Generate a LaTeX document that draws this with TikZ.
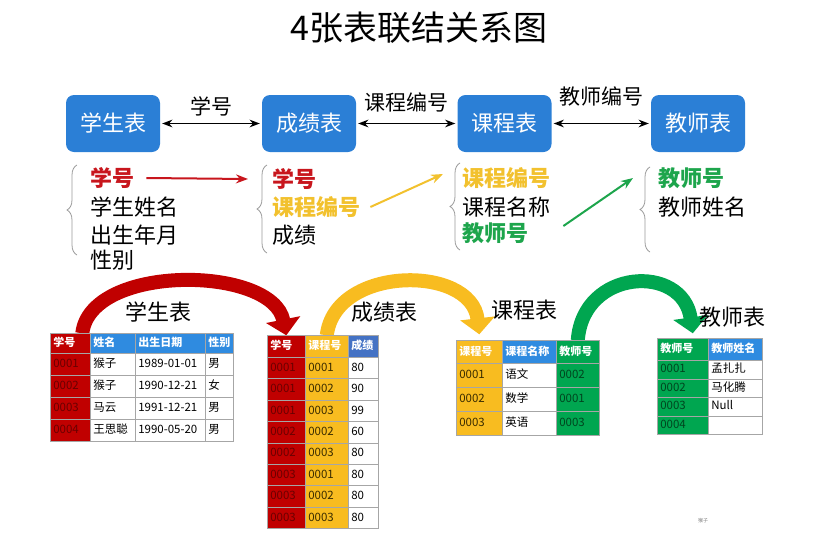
\documentclass[tikz,border=0pt]{standalone}
\usepackage{fontspec}
\setmainfont{Noto Sans CJK SC}
\usetikzlibrary{positioning, arrows.meta, matrix, decorations.pathreplacing, backgrounds}
\definecolor{boxblue}{HTML}{2B7FD6}
\definecolor{hdrblue}{HTML}{2F8BE0}
\definecolor{hdrblue2}{HTML}{4472C4}
\definecolor{keyred}{HTML}{C00000}
\definecolor{keyredtxt}{HTML}{6A0000}
\definecolor{keyyellow}{HTML}{F8BC20}
\definecolor{keyyellowtxt}{HTML}{3A2C00}
\definecolor{keygreen}{HTML}{00A650}
\definecolor{keygreentxt}{HTML}{00451F}
\definecolor{gridgray}{HTML}{A6A6A6}
\definecolor{listred}{HTML}{C8161D}
\definecolor{listyellow}{HTML}{F2C12E}
\definecolor{listgreen}{HTML}{1DA54C}
\definecolor{bracegray}{HTML}{9A9A9A}

\begin{document}
\begin{tikzpicture}[
    x=1pt, y=-1pt,
    >=Stealth,
    title/.style={font=\fontsize{34}{40}\selectfont},
    tblbox/.style={rounded corners=8pt, fill=boxblue, text=white, minimum width=94pt,
                   minimum height=57pt, font=\fontsize{22}{26}\selectfont},
    link/.style={<->, line width=1.6pt, shorten <=2pt, shorten >=2pt},
    linklbl/.style={font=\fontsize{21}{25}\selectfont},
    item/.style={anchor=west, inner sep=0pt, font=\fontsize{22}{26}\selectfont},
    keyitem/.style={item, font=\fontsize{22}{26}\selectfont\bfseries},
    grp/.style={decorate, decoration={brace, amplitude=10pt}, draw=bracegray, line width=0.8pt},
    fk/.style={->, line width=2pt},
    ribbon/.style={line width=14pt, -{Triangle[length=16pt, width=34pt]}},
    tname/.style={font=\fontsize{22}{26}\selectfont},
    tab/.style={matrix of nodes, nodes in empty cells, anchor=north west,
                inner sep=0pt, outer sep=0pt,
                column sep=-0.6pt, row sep=-0.6pt,
                nodes={draw=gridgray, line width=0.6pt, fill=white, inner xsep=3pt, inner ysep=0pt,
                       text height=9pt, text depth=2.5pt, align=left,
                       font=\fontsize{11.5}{13}\selectfont}},
    hd/.style={font=\fontsize{11}{13}\selectfont\bfseries, text=white},
    hred/.style={hd, fill=keyred},
    hyel/.style={hd, fill=keyyellow},
    hgrn/.style={hd, fill=keygreen},
    hblue/.style={hd, fill=hdrblue},
    hblue2/.style={hd, fill=hdrblue2},
    kred/.style={nodes={fill=keyred, text=keyredtxt}},
    kyel/.style={nodes={fill=keyyellow, text=keyyellowtxt}},
    kgrn/.style={nodes={fill=keygreen, text=keygreentxt}},
]
\useasboundingbox (0,0) rectangle (820,536);

\node[title] (ttl) at (419,28) {4张表联结关系图};

% tables and their links
\node[tblbox] (bxstu) at (113,123.5) {学生表};
\node[tblbox] (bxsc)  at (309,123.5) {成绩表};
\node[tblbox] (bxcou) at (504.5,123.5) {课程表};
\node[tblbox] (bxtea) at (698,123.5) {教师表};

\draw[link] (bxstu) -- node[linklbl, above=3pt] (lk1) {学号} (bxsc);
\draw[link] (bxsc) -- node[linklbl, above=7pt] (lk2) {课程编号} (bxcou);
\draw[link] (bxcou) -- node[linklbl, above=13pt] (lk3) {教师编号} (bxtea);

% column lists
\node[keyitem, text=listred] (k1a) at (90,178) {学号};
\node[item] (n1b) at (90,207) {学生姓名};
\node[item] (n1c) at (90,235) {出生年月};
\node[item] (n1d) at (90,260) {性别};

\node[keyitem, text=listred] (k2a) at (272,179) {学号};
\node[keyitem, text=listyellow] (k2b) at (272,207) {课程编号};
\node[item] (n2c) at (272,235) {成绩};

\node[keyitem, text=listyellow] (k3a) at (462,178) {课程编号};
\node[item] (n3b) at (462,207) {课程名称};
\node[keyitem, text=listgreen] (k3c) at (462,233) {教师号};

\node[keyitem, text=listgreen] (k4a) at (658,178) {教师号};
\node[item] (n4b) at (658,207) {教师姓名};

\draw[grp] (77,255) -- (77,165);
\draw[grp] (267,253) -- (267,165);
\draw[grp] (460,250) -- (460,163);
\draw[grp] (650,252) -- (650,167);

\draw[fk, listred] ([xshift=12pt]k1a.east) -- ([xshift=-24pt]k2a.west);
\draw[fk, listyellow] ([xshift=10pt]k2b.east) -- ([xshift=-19pt, yshift=4pt]k3a.west);
\draw[fk, listgreen] ([xshift=35pt, yshift=7pt]k3c.east) -- ([xshift=-25pt]k4a.west);

% the four tables
\matrix[tab, row 1/.style={nodes={minimum height=20pt}}, nodes={minimum height=22pt},
        column 1/.style={kred, nodes={text width=34pt}},
        column 2/.style={nodes={text width=39pt}},
        column 3/.style={nodes={text width=64pt}},
        column 4/.style={nodes={text width=22pt}}]
  (stu) at (50,333) {
  |[hred]| 学号 & |[hblue]| 姓名 & |[hblue]| 出生日期 & |[hblue]| 性别 \\
  0001 & 猴子 & 1989-01-01 & 男 \\
  0002 & 猴子 & 1990-12-21 & 女 \\
  0003 & 马云 & 1991-12-21 & 男 \\
  0004 & 王思聪 & 1990-05-20 & 男 \\
};

\matrix[tab, row 1/.style={nodes={minimum height=22pt}}, nodes={minimum height=21.4pt},
        column 1/.style={kred, nodes={text width=32pt}},
        column 2/.style={kyel, nodes={text width=37pt}},
        column 3/.style={nodes={text width=24pt}}]
  (sc) at (267,335) {
  |[hred]| 学号 & |[hyel]| 课程号 & |[hblue2]| 成绩 \\
  0001 & 0001 & 80 \\
  0001 & 0002 & 90 \\
  0001 & 0003 & 99 \\
  0002 & 0002 & 60 \\
  0002 & 0003 & 80 \\
  0003 & 0001 & 80 \\
  0003 & 0002 & 80 \\
  0003 & 0003 & 80 \\
};

\matrix[tab, row 1/.style={nodes={minimum height=23pt}}, nodes={minimum height=24pt},
        column 1/.style={kyel, nodes={text width=40pt}},
        column 2/.style={nodes={text width=48pt}},
        column 3/.style={kgrn, nodes={text width=37pt}}]
  (cou) at (456,340) {
  |[hyel]| 课程号 & |[hblue]| 课程名称 & |[hgrn]| 教师号 \\
  0001 & 语文 & 0002 \\
  0002 & 数学 & 0001 \\
  0003 & 英语 & 0003 \\
};

\matrix[tab, row 1/.style={nodes={minimum height=22pt}}, nodes={minimum height=18.5pt},
        column 1/.style={kgrn, nodes={text width=45pt}},
        column 2/.style={nodes={text width=48pt}}]
  (tea) at (657,338) {
  |[hgrn]| 教师号 & |[hblue]| 教师姓名 \\
  0001 & 孟扎扎 \\
  0002 & 马化腾 \\
  0003 & Null \\
  0004 & \\
};

% big curved arrows behind the tables
\begin{scope}[on background layer]
\draw[ribbon, keyred] ([xshift=12pt]stu-1-1.north) .. controls +(8,-70) and +(-14,-70) .. (sc-1-1.north);
\draw[ribbon, keyyellow] (sc-1-2.north) .. controls +(8,-70) and +(-8,-70) .. ([yshift=6pt]cou-1-1.north);
\draw[ribbon, keygreen] (cou-1-3.north) .. controls +(5,-72) and +(-10,-70) .. ([xshift=10pt, yshift=5pt]tea-1-1.north);
\end{scope}

\node[tname] (tstu) at (158,312) {学生表};
\node[tname] (tsc)  at (384,312) {成绩表};
\node[tname] (tcou) at (524,310) {课程表};
\node[tname] (ttea) at (732,317) {教师表};

\node[font=\fontsize{5}{6}\selectfont, text=gray] (wm) at (703,521) {猴子};

\end{tikzpicture}
\end{document}
